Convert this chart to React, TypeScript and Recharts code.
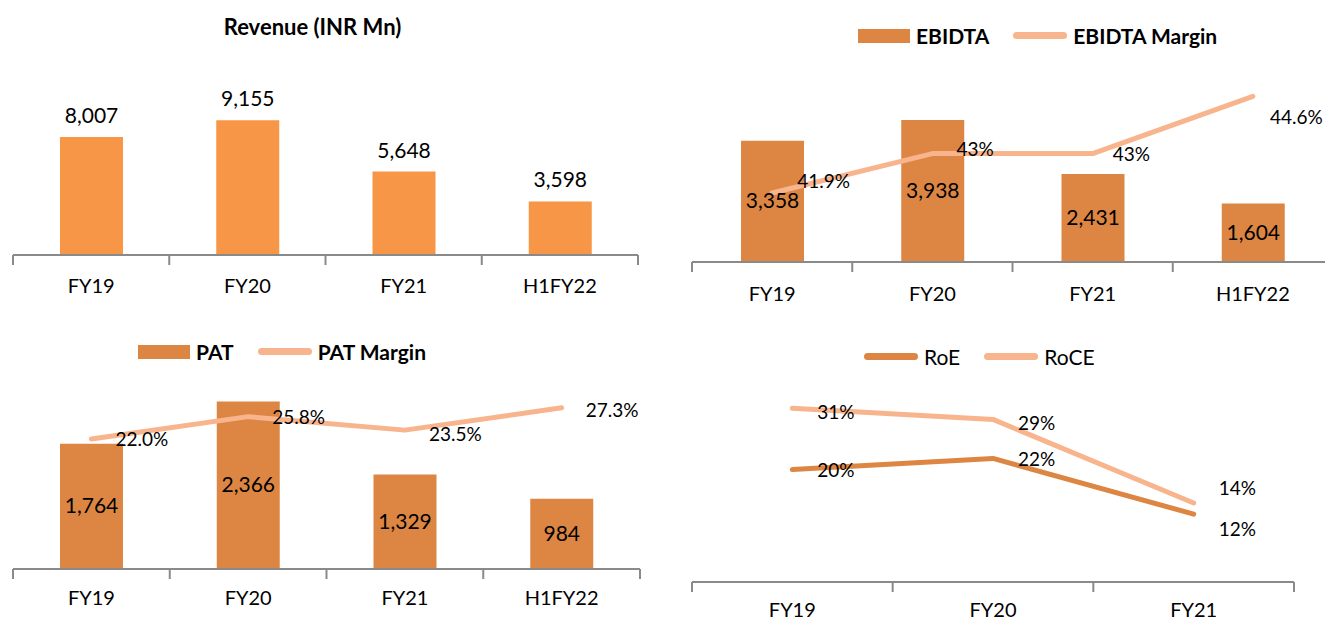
import React from 'react';
import { ComposedChart, Bar, Line, XAxis, YAxis, LabelList, Legend } from 'recharts';

const periods = ['FY19', 'FY20', 'FY21', 'H1FY22'];
const revenue = [8007, 9155, 5648, 3598];
const ebidta = [3358, 3938, 2431, 1604];
const ebidtaMargin = [41.9, 43, 43, 44.6];
const pat = [1764, 2366, 1329, 984];
const patMargin = [22.0, 25.8, 23.5, 27.3];
const returnYears = ['FY19', 'FY20', 'FY21'];
const roe = [20, 22, 12];
const roce = [31, 29, 14];

// slot = middle of each category on the numeric "edge" axis
const revenueData = periods.map((period, i) => ({ period, slot: i + 0.5, revenue: revenue[i] }));
const ebidtaData = periods.map((period, i) => ({ period, slot: i + 0.5, ebidta: ebidta[i], margin: ebidtaMargin[i] }));
const patData = periods.map((period, i) => ({ period, slot: i + 0.5, pat: pat[i], margin: patMargin[i] }));
const returnData = returnYears.map((period, i) => ({ period, slot: i + 0.5, roe: roe[i], roce: roce[i] }));

const FONT = 'Lato, "Open Sans", sans-serif';
const AXIS = '#8a8a8a';
const LIGHT = '#F79646';
const DARK = '#DD8643';
const PALE = '#F8B48C';

const fmtNum = (v: any) => Number(v).toLocaleString('en-US');
const fmtPct = (v: any) => `${v}%`;
const fmtPct1 = (v: any) => `${Number(v).toFixed(1)}%`;

// category labels (axis of height 1, the labels hang below it)
const catAxis = (margin: number) => (
  <XAxis
    dataKey="period"
    scale="band"
    axisLine={false}
    tickLine={false}
    tickSize={0}
    tickMargin={margin}
    height={1}
    interval={0}
    tick={{ fill: '#000', fontSize: 20, fontFamily: FONT }}
  />
);

const NoText = () => <g />;

// numeric axis, only used for the axis line and the tick marks between categories
const edgeAxis = (n: number, height: number) => (
  <XAxis
    xAxisId="edge"
    dataKey="slot"
    type="number"
    domain={[0, n]}
    ticks={Array.from({ length: n + 1 }, (_, i) => i)}
    allowDataOverflow
    interval={0}
    tick={NoText}
    tickSize={10}
    height={height}
    axisLine={{ stroke: AXIS, strokeWidth: 2 }}
    tickLine={{ stroke: AXIS, strokeWidth: 2 }}
  />
);

// text to the right of a line point; some labels are nudged like in the original
const pointLabel = (fmt: (v: any) => string, dx: number, nudge: Record<number, [number, number]> = {}) => (props: any) => {
  const { x, y, value, index } = props;
  const [ndx, ndy] = nudge[index] || [0, 0];
  return (
    <text x={x + dx + ndx} y={y + ndy} dominantBaseline="central" fill="#000" fontSize={19} fontFamily={FONT}>
      {fmt(value)}
    </text>
  );
};

type Item = { label: string; kind: 'bar' | 'line'; color: string };

const LegendRow = ({ items, bold }: { items: Item[]; bold: boolean }) => (
  <div style={{ display: 'flex', alignItems: 'center', fontFamily: FONT, fontSize: 21, fontWeight: bold ? 700 : 400, color: '#000', whiteSpace: 'nowrap' }}>
    {items.map((it, i) => (
      <div key={it.label} style={{ display: 'flex', alignItems: 'center', marginRight: i === 0 ? 24 : 0 }}>
        {it.kind === 'bar' ? (
          <span style={{ display: 'inline-block', width: 52, height: 14, background: it.color }} />
        ) : (
          <span style={{ display: 'inline-block', width: 54, height: 7, borderRadius: 4, background: it.color }} />
        )}
        <span style={{ marginLeft: 6 }}>{it.label}</span>
      </div>
    ))}
  </div>
);

const labelStyle = { fill: '#000', fontSize: 21, fontFamily: FONT };

const Panel: React.FC<{ left: number; top: number; width: number; height: number; children: React.ReactNode }> = ({ left, top, width, height, children }) => (
  <div style={{ position: 'absolute', left, top, width, height, overflow: 'hidden' }}>{children}</div>
);

export default function App() {
  return (
    <div style={{ position: 'absolute', left: 0, top: 0, width: 1325, height: 622, background: '#fff', fontFamily: FONT }}>
      <Panel left={0} top={0} width={660} height={310}>
        <div style={{ position: 'absolute', left: 0, width: 625, top: 13, textAlign: 'center', fontWeight: 700, fontSize: 22, color: '#000' }}>
          Revenue (INR Mn)
        </div>
        <ComposedChart width={660} height={310} data={revenueData} margin={{ top: 108, right: 22, left: 13, bottom: 0 }}>
          {catAxis(25)}
          {edgeAxis(periods.length, 55)}
          <YAxis yAxisId="v" hide domain={[0, 10000]} />
          <Bar yAxisId="v" dataKey="revenue" fill={LIGHT} barSize={63} isAnimationActive={false}>
            <LabelList dataKey="revenue" position="top" offset={14} formatter={fmtNum} style={labelStyle} />
          </Bar>
        </ComposedChart>
      </Panel>

      <Panel left={660} top={0} width={665} height={310}>
        <ComposedChart width={680} height={310} data={ebidtaData} margin={{ top: 82, right: 7, left: 32, bottom: 0 }}>
          <Legend
            layout="vertical"
            verticalAlign="middle"
            align="center"
            wrapperStyle={{ left: 198, top: 23, width: 'auto' }}
            content={() => (
              <LegendRow
                bold
                items={[
                  { label: 'EBIDTA', kind: 'bar', color: DARK },
                  { label: 'EBIDTA Margin', kind: 'line', color: PALE },
                ]}
              />
            )}
          />
          {catAxis(26)}
          {edgeAxis(periods.length, 48)}
          <YAxis yAxisId="v" hide domain={[0, 5000]} />
          <YAxis yAxisId="p" hide orientation="right" domain={[40, 45]} />
          <Bar yAxisId="v" dataKey="ebidta" fill={DARK} barSize={63} isAnimationActive={false}>
            <LabelList dataKey="ebidta" position="center" formatter={fmtNum} style={labelStyle} />
          </Bar>
          <Line yAxisId="p" dataKey="margin" stroke={PALE} strokeWidth={5} strokeLinecap="round" strokeLinejoin="round" dot={false} activeDot={false} isAnimationActive={false}>
            <LabelList dataKey="margin" content={pointLabel(fmtPct, 20, { 0: [5, -12], 1: [4, -5], 3: [-3, 20] })} />
          </Line>
        </ComposedChart>
      </Panel>

      <Panel left={0} top={310} width={660} height={312}>
        <ComposedChart width={660} height={312} data={patData} margin={{ top: 82, right: 20, left: 13, bottom: 0 }}>
          <Legend
            layout="vertical"
            verticalAlign="middle"
            align="center"
            wrapperStyle={{ left: 138, top: 29, width: 'auto' }}
            content={() => (
              <LegendRow
                bold
                items={[
                  { label: 'PAT', kind: 'bar', color: DARK },
                  { label: 'PAT Margin', kind: 'line', color: PALE },
                ]}
              />
            )}
          />
          {catAxis(23)}
          {edgeAxis(periods.length, 53)}
          <YAxis yAxisId="v" hide domain={[0, 2500]} />
          <YAxis yAxisId="p" hide orientation="right" domain={[0, 30]} />
          <Bar yAxisId="v" dataKey="pat" fill={DARK} barSize={63} isAnimationActive={false}>
            <LabelList dataKey="pat" position="center" formatter={fmtNum} style={labelStyle} />
          </Bar>
          <Line yAxisId="p" dataKey="margin" stroke={PALE} strokeWidth={5} strokeLinecap="round" strokeLinejoin="round" dot={false} activeDot={false} isAnimationActive={false}>
            <LabelList dataKey="margin" content={pointLabel(fmtPct1, 24, { 2: [0, 3], 3: [0, 2] })} />
          </Line>
        </ComposedChart>
      </Panel>

      <Panel left={660} top={310} width={665} height={312}>
        <ComposedChart width={665} height={312} data={returnData} margin={{ top: 76, right: 31, left: 32, bottom: 0 }}>
          <Legend
            layout="vertical"
            verticalAlign="middle"
            align="center"
            wrapperStyle={{ left: 204, top: 34, width: 'auto' }}
            content={() => (
              <LegendRow
                bold={false}
                items={[
                  { label: 'RoE', kind: 'line', color: DARK },
                  { label: 'RoCE', kind: 'line', color: PALE },
                ]}
              />
            )}
          />
          {catAxis(22)}
          {edgeAxis(returnYears.length, 40)}
          <YAxis yAxisId="p" hide domain={[0, 35]} />
          <Line yAxisId="p" dataKey="roe" stroke={DARK} strokeWidth={5} strokeLinecap="round" strokeLinejoin="round" dot={false} activeDot={false} isAnimationActive={false}>
            <LabelList dataKey="roe" content={pointLabel(fmtPct, 25, { 2: [0, 14] })} />
          </Line>
          <Line yAxisId="p" dataKey="roce" stroke={PALE} strokeWidth={5} strokeLinecap="round" strokeLinejoin="round" dot={false} activeDot={false} isAnimationActive={false}>
            <LabelList dataKey="roce" content={pointLabel(fmtPct, 25, { 0: [0, 3], 1: [0, 3], 2: [0, -16] })} />
          </Line>
        </ComposedChart>
      </Panel>
    </div>
  );
}
